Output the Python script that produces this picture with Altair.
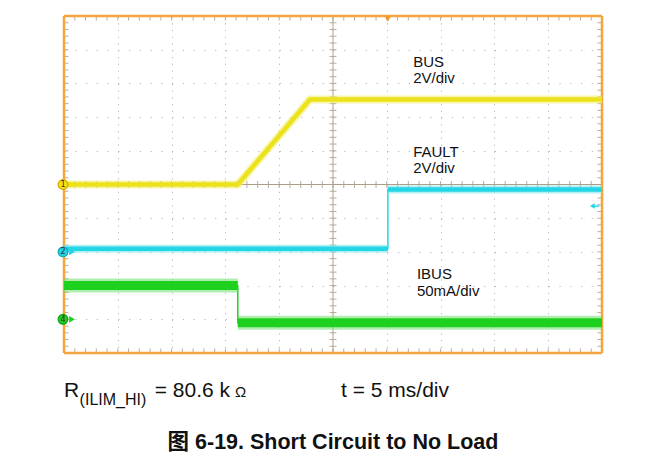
import altair as alt
import pandas as pd

# ---- trace data (time in divisions 0..10, level in divisions 0..10 from bottom) ----
bus_t = [0.0, 3.23, 4.57, 10.0]
bus_v = [5.0, 5.0, 7.52, 7.52]
fault_t = [0.0, 6.02, 6.02, 10.0]
fault_v = [3.09, 3.09, 4.85, 4.85]
ibus_t = [0.0, 3.23, 3.23, 10.0]
ibus_v = [2.0, 2.0, 0.9, 0.9]

# channel ground markers
channel_ids = ["1", "2", "4"]
channel_levels = [5.0, 3.0, 1.0]
channel_fill = ["#f2e20a", "#22d4e4", "#1fcf1f"]
channel_edge = ["#d8a400", "#10a8b8", "#10a010"]

trigger_time = [6.02]
fault_threshold_level = [4.36]

# graticule
grid_lines = [1, 2, 3, 4, 6, 7, 8, 9]
minor_ticks = [round(i * 0.2, 1) for i in range(51)]

# text
plot_labels = ["BUS", "2V/div", "FAULT", "2V/div", "IBUS", "50mA/div"]
plot_label_x = [6.49, 6.49, 6.49, 6.49, 6.56, 6.56]
plot_label_y = [8.49, 8.0, 5.82, 5.34, 2.19, 1.69]

W, H = 538, 337
YEL, CYA, GRN = "#ece21c", "#22d6e6", "#1fd11f"
ORANGE = "#f5a53e"
CENTER = "#ab9f8c"

xs = alt.Scale(domain=[0, 10], nice=False, zero=False)
ys = alt.Scale(domain=[0, 10], nice=False, zero=False)
xaxis = alt.Axis(values=grid_lines, grid=True, gridDash=[1.2, 5.54], gridColor="#b8b8b8",
                 domain=False, ticks=False, labels=False, title="")
yaxis = alt.Axis(values=grid_lines, grid=True, gridDash=[1.2, 9.56], gridColor="#b8b8b8",
                 domain=False, ticks=False, labels=False, title="")


def X(f, **kw):
    return alt.X(f, type="quantitative", scale=xs, axis=xaxis, **kw)


def Y(f, **kw):
    return alt.Y(f, type="quantitative", scale=ys, axis=yaxis, **kw)


def path_df(t, v):
    return pd.DataFrame({"t": t, "v": v, "i": list(range(len(t)))})


def flat_segments(t, v):
    rows = []
    for k in range(len(t) - 1):
        if v[k] == v[k + 1]:
            rows.append({"t": t[k], "t2": t[k + 1], "v": v[k]})
    return pd.DataFrame(rows)


layers = []

# center cross lines
layers.append(alt.Chart(pd.DataFrame({"c": [5]})).mark_rule(color=CENTER, strokeWidth=1).encode(x=X("c:Q")))
layers.append(alt.Chart(pd.DataFrame({"c": [5]})).mark_rule(color=CENTER, strokeWidth=1).encode(y=Y("c:Q")))

# minor ticks on center lines and edges
for yv, sz in [(5, 7), (0, 9), (10, 9)]:
    df = pd.DataFrame({"t": minor_ticks, "v": [yv] * len(minor_ticks)})
    layers.append(alt.Chart(df).mark_tick(orient="vertical", size=sz, thickness=1, color=CENTER,
                                          opacity=0.85, clip=True).encode(x=X("t:Q"), y=Y("v:Q")))
for xv, sz in [(5, 7), (0, 9), (10, 9)]:
    df = pd.DataFrame({"v": minor_ticks, "t": [xv] * len(minor_ticks)})
    layers.append(alt.Chart(df).mark_tick(orient="horizontal", size=sz, thickness=1, color=CENTER,
                                          opacity=0.85, clip=True).encode(x=X("t:Q"), y=Y("v:Q")))

# frame (drawn over ticks)
frame = pd.DataFrame({"t": [0, 10, 0, 0], "t2": [0, 10, 10, 10], "v": [0, 0, 0, 10], "v2": [10, 10, 0, 10]})
layers.append(alt.Chart(frame).mark_rule(color=ORANGE, strokeWidth=2.5)
              .encode(x=X("t:Q"), x2="t2:Q", y=Y("v:Q"), y2="v2:Q"))

# traces
# BUS
bus = path_df(bus_t, bus_v)
layers.append(alt.Chart(bus).mark_line(color="#f2ec60", strokeWidth=8, opacity=0.55, clip=True)
              .encode(x=X("t:Q"), y=Y("v:Q"), order="i:Q"))
layers.append(alt.Chart(bus).mark_line(color=YEL, strokeWidth=4.5, clip=True)
              .encode(x=X("t:Q"), y=Y("v:Q"), order="i:Q"))
# FAULT
fault = path_df(fault_t, fault_v)
fseg = flat_segments(fault_t, fault_v)
layers.append(alt.Chart(fault).mark_line(color=CYA, strokeWidth=1.5, clip=True)
              .encode(x=X("t:Q"), y=Y("v:Q"), order="i:Q"))
layers.append(alt.Chart(fseg).mark_rule(color="#7fe6f0", strokeWidth=8, opacity=0.6, clip=True)
              .encode(x=X("t:Q"), x2="t2:Q", y=Y("v:Q")))
layers.append(alt.Chart(fseg).mark_rule(color=CYA, strokeWidth=4.5, clip=True)
              .encode(x=X("t:Q"), x2="t2:Q", y=Y("v:Q")))
# IBUS
ibus = path_df(ibus_t, ibus_v)
iseg = flat_segments(ibus_t, ibus_v)
layers.append(alt.Chart(ibus).mark_line(color=GRN, strokeWidth=1.5, clip=True)
              .encode(x=X("t:Q"), y=Y("v:Q"), order="i:Q"))
layers.append(alt.Chart(iseg).mark_rule(color="#6fe06f", strokeWidth=14, opacity=0.55, clip=True)
              .encode(x=X("t:Q"), x2="t2:Q", y=Y("v:Q")))
layers.append(alt.Chart(iseg).mark_rule(color=GRN, strokeWidth=9, clip=True)
              .encode(x=X("t:Q"), x2="t2:Q", y=Y("v:Q")))

# channel markers
ch = pd.DataFrame({"id": channel_ids, "v": channel_levels, "t": [0.0] * 3,
                   "fill": channel_fill, "edge": channel_edge})
layers.append(alt.Chart(ch).mark_point(shape="triangle-right", filled=True, size=45, xOffset=8, opacity=1)
              .encode(x=X("t:Q"), y=Y("v:Q"), color=alt.Color("fill:N", scale=None)))
layers.append(alt.Chart(ch).mark_point(shape="circle", filled=True, size=95, strokeWidth=1.2, opacity=1, xOffset=-1)
              .encode(x=X("t:Q"), y=Y("v:Q"), fill=alt.Fill("fill:N", scale=None),
                      stroke=alt.Stroke("edge:N", scale=None)))
layers.append(alt.Chart(ch).mark_text(fontSize=8, font="DejaVu Sans", color="#333333", xOffset=-1, dy=0.5)
              .encode(x=X("t:Q"), y=Y("v:Q"), text="id:N"))

# trigger marker
trg = pd.DataFrame({"t": trigger_time, "v": [10.0]})
layers.append(alt.Chart(trg).mark_point(shape="triangle-down", filled=True, size=40, color="#f09a2a",
                                        yOffset=3, opacity=1)
              .encode(x=X("t:Q"), y=Y("v:Q")))

# fault threshold arrow on right
thr = pd.DataFrame({"t": [9.82], "t2": [9.95], "v": fault_threshold_level})
layers.append(alt.Chart(thr).mark_rule(color=CYA, strokeWidth=1.5)
              .encode(x=X("t:Q"), x2="t2:Q", y=Y("v:Q")))
layers.append(alt.Chart(thr).mark_point(shape="triangle-left", filled=True, size=30, color=CYA, opacity=1)
              .encode(x=X("t:Q"), y=Y("v:Q")))

# in-plot labels
lab = pd.DataFrame({"txt": plot_labels, "t": plot_label_x, "v": plot_label_y})
layers.append(alt.Chart(lab).mark_text(align="left", baseline="alphabetic", fontSize=15,
                                       font="Liberation Sans", color="#111111")
              .encode(x=X("t:Q"), y=Y("v:Q"), text="txt:N"))

# caption texts below the scope
cap = pd.DataFrame({
    "txt": ["R", "(ILIM_HI)", "= 80.6 k", "Ω", "t = 5 ms/div"],
    "t": [0.0, 0.29, 1.686, 3.18, 5.15],
    "v": [-1.32, -1.53, -1.32, -1.30, -1.32],
    "size": [21, 16, 21, 15, 21],
})
layers.append(alt.Chart(cap).mark_text(align="left", baseline="alphabetic", font="Liberation Sans",
                                       color="#111111")
              .encode(x=X("t:Q"), y=Y("v:Q"), text="txt:N",
                      size=alt.Size("size:Q", scale=None)))

title_df = pd.DataFrame({"txt": ["图 6-19. Short Circuit to No Load"], "t": [5.0], "v": [-2.85]})
layers.append(alt.Chart(title_df).mark_text(align="center", baseline="alphabetic", fontSize=21.5,
                                            fontWeight="bold", font="Liberation Sans, Noto Sans CJK SC",
                                            color="#111111")
              .encode(x=X("t:Q"), y=Y("v:Q"), text="txt:N"))

chart = alt.layer(*layers).properties(
    width=W, height=H,
    autosize=alt.AutoSizeParams(type="none"),
    padding={"left": 56, "top": 8, "right": 53, "bottom": 109},
    background="white",
).configure_view(stroke=None)

chart.save("out.html", embed_options={"renderer": "svg", "actions": False})
